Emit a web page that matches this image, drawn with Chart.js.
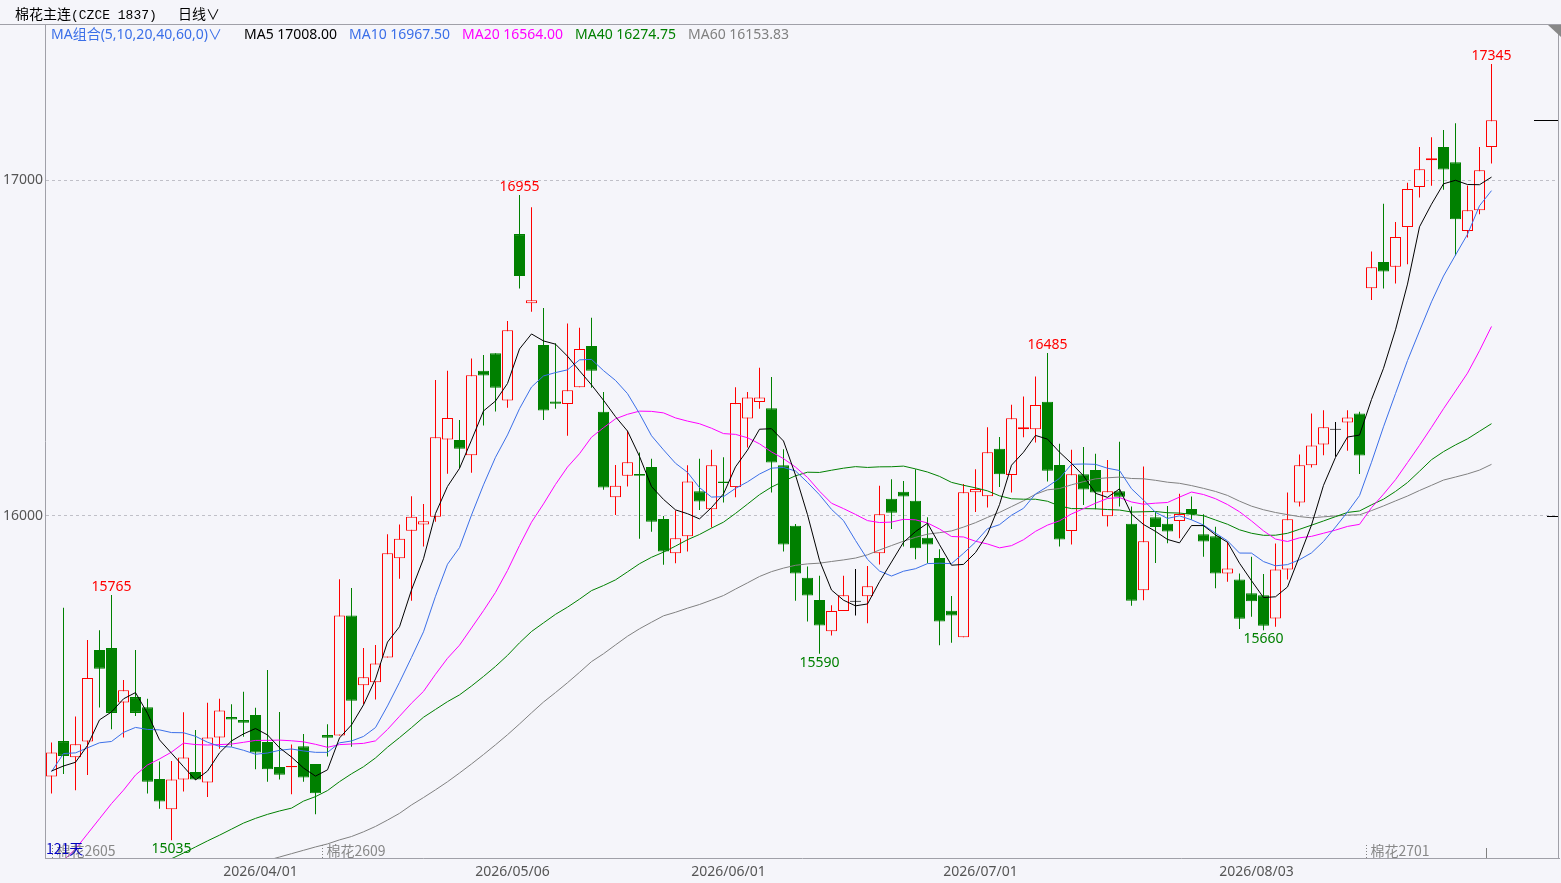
<!DOCTYPE html>
<html><head><meta charset="utf-8">
<script src="https://cdn.jsdelivr.net/npm/chart.js@4.4.1/dist/chart.umd.min.js"></script>
<style>
html,body{margin:0;padding:0;background:#f5f5fa;}
#wrap{position:relative;width:1561px;height:883px;overflow:hidden;background:#f5f5fa;}
canvas{position:absolute;left:0;top:0;}
.t{position:absolute;white-space:nowrap;font-family:"Noto Sans CJK SC","Noto Sans",sans-serif;font-size:14px;line-height:18px;}
.m{position:absolute;white-space:nowrap;font-family:"Noto Sans","Noto Sans CJK SC",sans-serif;font-size:14px;line-height:18px;}
.ln{position:absolute;background:#a0a0a8;}
</style></head>
<body><div id="wrap">
<canvas id="c" width="1561" height="883"></canvas>
<div class="ln" style="left:0;top:24px;width:1561px;height:1px;"></div>
<div class="ln" style="left:1558px;top:24px;width:1px;height:835px;"></div>
<div style="position:absolute;left:1548px;top:25px;width:0;height:0;border-top:12px solid #888;border-left:13px solid transparent;"></div>
<div class="t" style="left:15px;top:4px;color:#000">棉花主连<span style="font-family:'Liberation Mono',monospace;font-size:13px">(CZCE 1837)</span></div>
<div class="t" style="left:178px;top:4px;color:#000">日线∨</div>
<div class="m" style="left:51px;top:25px;color:#3b6fe8">MA组合(5,10,20,40,60,0)∨</div>
<div class="m" style="left:244px;top:25px;color:#000">MA5 17008.00</div>
<div class="m" style="left:349px;top:25px;color:#3b6fe8">MA10 16967.50</div>
<div class="m" style="left:462px;top:25px;color:#ff00ff">MA20 16564.00</div>
<div class="m" style="left:575px;top:25px;color:#008000">MA40 16274.75</div>
<div class="m" style="left:688px;top:25px;color:#808080">MA60 16153.83</div>
</div>
<script>
const dates = [
'2026/03/09','2026/03/10','2026/03/11','2026/03/12','2026/03/13','2026/03/16','2026/03/17','2026/03/18','2026/03/19','2026/03/20',
'2026/03/23','2026/03/24','2026/03/25','2026/03/26','2026/03/27','2026/03/30','2026/03/31',
'2026/04/01','2026/04/02','2026/04/03','2026/04/07','2026/04/08','2026/04/09','2026/04/10','2026/04/13','2026/04/14','2026/04/15',
'2026/04/16','2026/04/17','2026/04/20','2026/04/21','2026/04/22','2026/04/23','2026/04/24','2026/04/27','2026/04/28','2026/04/29','2026/04/30',
'2026/05/06','2026/05/07','2026/05/08','2026/05/11','2026/05/12','2026/05/13','2026/05/14','2026/05/15','2026/05/18','2026/05/19',
'2026/05/20','2026/05/21','2026/05/22','2026/05/25','2026/05/26','2026/05/27','2026/05/28','2026/05/29',
'2026/06/01','2026/06/02','2026/06/03','2026/06/04','2026/06/05','2026/06/08','2026/06/09','2026/06/10','2026/06/11','2026/06/12',
'2026/06/15','2026/06/16','2026/06/17','2026/06/18','2026/06/22','2026/06/23','2026/06/24','2026/06/25','2026/06/26','2026/06/29','2026/06/30',
'2026/07/01','2026/07/02','2026/07/03','2026/07/06','2026/07/07','2026/07/08','2026/07/09','2026/07/10','2026/07/13','2026/07/14',
'2026/07/15','2026/07/16','2026/07/17','2026/07/20','2026/07/21','2026/07/22','2026/07/23','2026/07/24','2026/07/27','2026/07/28',
'2026/07/29','2026/07/30','2026/07/31',
'2026/08/03','2026/08/04','2026/08/05','2026/08/06','2026/08/07','2026/08/10','2026/08/11','2026/08/12','2026/08/13','2026/08/14',
'2026/08/17','2026/08/18','2026/08/19','2026/08/20','2026/08/21','2026/08/24','2026/08/25','2026/08/26','2026/08/27','2026/08/28','2026/08/31'];

const opens = [15225,15330,15282,15329,15601,15607,15445,15461,15431,15217,
15127,15216,15238,15207,15341,15402,15393,15408,15327,15253,
15252,15315,15262,15348,15347,15704,15496,15505,15579,15874,
15956,15975,15998,16228,16226,16181,16432,16484,16344,16839,
16633,16509,16341,16333,16383,16506,16310,16056,16120,16125,
16146,15991,15889,15940,16074,16020,16103,16086,16290,16339,
16321,16151,15971,15816,15750,15657,15717,15745,15761,15889,
16051,16072,16045,15935,15875,15718,15639,16071,16059,16200,
16122,16258,16258,16340,16152,15955,16124,16137,15999,16074,
15977,15779,15996,15977,15985,16021,15946,15940,15829,15811,
15770,15764,15695,15841,16040,16151,16213,16257,16278,16305,
16678,16756,16742,16860,16979,17059,17098,17053,16848,16910,
17098];
const highs = [15326,15727,15403,15631,15660,15765,15512,15601,15456,15269,
15271,15416,15363,15444,15456,15440,15477,15429,15542,15417,
15320,15351,15262,15380,15812,15786,15607,15616,15946,15975,
16059,16036,16405,16432,16286,16469,16479,16484,16580,16955,
16919,16619,16514,16573,16560,16590,16369,16152,16254,16189,
16170,16000,16016,16151,16170,16197,16175,16383,16369,16441,
16414,16199,15976,15850,15822,15734,15822,15842,15851,16090,
16109,16104,16139,15996,15901,15762,16095,16139,16264,16235,
16331,16356,16415,16485,16215,16197,16205,16185,16167,16221,
16028,16147,16013,16030,16066,16058,16005,15968,15923,15829,
15879,15827,15918,16070,16183,16305,16315,16280,16315,16310,
16787,16929,16875,16992,17098,17127,17149,17169,16984,17098,
17345];
const lows = [15174,15232,15184,15229,15430,15365,15341,15405,15174,15129,
15035,15180,15214,15164,15307,15313,15343,15246,15209,15216,
15172,15209,15112,15284,15347,15313,15440,15454,15579,15813,
15748,15909,15983,16126,16141,16129,16269,16311,16322,16677,
16608,16286,16319,16239,16383,16382,16078,16003,16088,15932,
15953,15855,15859,15894,16018,15966,16040,16056,16204,16319,
16070,15894,15748,15686,15590,15644,15717,15704,15681,15856,
15961,15909,15871,15859,15615,15623,15639,16012,16025,16086,
16070,16234,16219,16103,15909,15915,16033,16020,15969,16028,
15733,15749,15860,15919,15934,15989,15879,15785,15804,15664,
15700,15660,15670,15811,16028,16144,16181,16176,16194,16125,
16643,16677,16692,16749,16948,16983,16971,16775,16829,16898,
17049];
const closes = [15296,15286,15321,15518,15545,15414,15481,15414,15209,15150,
15216,15281,15216,15341,15421,15394,15385,15296,15246,15230,
15256,15222,15175,15340,15704,15450,15520,15561,15889,15932,
15998,15984,16234,16292,16200,16419,16418,16382,16553,16714,
16642,16314,16334,16374,16497,16432,16085,16090,16160,16120,
15983,15894,15934,16103,16043,16151,16098,16336,16353,16353,
16159,15915,15829,15763,15674,15717,15764,15745,15791,16005,
16010,16058,15904,15915,15686,15704,16071,16080,16190,16124,
16291,16264,16330,16135,15930,16124,16079,16070,16074,16057,
15748,15925,15967,15954,16006,16006,15924,15829,15844,15694,
15746,15673,15841,15990,16151,16210,16264,16257,16293,16180,
16740,16728,16830,16973,17032,17065,17031,16883,16910,17029,
17178];

const ma5 = [15241,15256,15267,15317,15393.2,15416.8,15455.8,15474.4,15412.6,15333.6,
15294,15254,15214.4,15240.8,15295,15330.6,15351.4,15367.4,15348.4,15310.2,
15282.6,15250,15225.8,15244.6,15339.4,15378.2,15437.8,15515,15624.8,15670.4,
15780,15872.8,16007.4,16088,16141.6,16225.8,16312.6,16342.2,16394.4,16497.2,
16541.8,16521,16511.4,16475.6,16432.2,16390.2,16344.4,16295.6,16252.8,16177.4,
16087.6,16049.4,16018.2,16006.8,15991.4,16025,16065.8,16146.2,16196.2,16258.2,
16259.8,16223.2,16121.8,16003.8,15868,15779.6,15749.4,15732.6,15738.2,15804.4,
15863,15921.8,15953.6,15978.4,15914.6,15853.4,15856,15891.2,15946.2,16033.8,
16151.2,16189.8,16239.8,16228.8,16190,16156.6,16119.6,16067.6,16055.4,16080.8,
16005.6,15974.8,15954.2,15930.2,15920,15971.6,15971.4,15943.8,15921.8,15859.4,
15807.4,15757.2,15759.6,15788.8,15880.2,15973,16091.2,16174.4,16235,16240.8,
16346.8,16439.6,16554.2,16690.2,16860.6,16928,16988.6,16999.2,16986.6,16986,
17008.6];
const ma10 = [15239,15293,15295,15310,15325,15328.9,15355.9,15370.7,15364.8,15363.4,
15355.4,15354.9,15344.4,15326.7,15314.3,15312.3,15302.7,15290.9,15294.6,15302.6,
15306.6,15300.7,15296.6,15296.5,15324.8,15330.4,15343.9,15370.4,15434.7,15504.9,
15579.1,15655.3,15761.2,15856.4,15906,16002.9,16092.7,16174.8,16241.2,16319.4,
16383.8,16416.8,16426.8,16435,16464.7,16466,16432.7,16403.5,16364.2,16304.8,
16238.9,16196.9,16156.9,16129.8,16084.4,16056.3,16057.6,16082.2,16101.5,16124.8,
16142.4,16144.5,16134,16100,16063.1,16019.7,15986.3,15927.2,15871,15836.2,
15821.3,15835.6,15843.1,15858.3,15859.5,15858.2,15888.9,15922.4,15962.3,15974.2,
16002.3,16022.9,16065.5,16087.5,16111.9,16153.9,16154.7,16153.7,16142.1,16135.4,
16081.1,16047.2,16010.9,15992.8,16000.4,15988.6,15973.1,15949,15926,15889.7,
15889.5,15864.3,15851.7,15855.3,15869.8,15890.2,15924.2,15967,16011.9,16060.5,
16159.9,16265.4,16364.3,16462.6,16550.7,16637.4,16714.1,16776.7,16838.4,16923.3,
16968.3];
const ma20 = [14930,14975,15009,15054,15099,15144,15184,15229,15259,15277,
15297.2,15324,15319.7,15318.4,15319.7,15321.2,15326.4,15332,15332.3,15333,
15331,15327.8,15320.5,15311.6,15319.6,15321.4,15323.3,15330.7,15364.7,15403.8,
15442.9,15478,15528.9,15576.5,15615.4,15666.7,15718.3,15772.6,15838,15912.2,
15981.5,16036,16094,16145.7,16185.4,16234.5,16262.7,16289.2,16302.7,16312.1,
16311.4,16306.9,16291.9,16282.4,16274.6,16261.2,16245.2,16242.9,16232.9,16214.8,
16190.7,16170.7,16145.5,16114.9,16073.8,16038,16022,16004.7,15986.3,15980.5,
15981.9,15990.1,15988.6,15979.2,15961.3,15939,15937.6,15924.8,15916.7,15905.2,
15911.8,15929.3,15954.3,15972.9,15985.7,16006.1,16021.8,16038.1,16052.2,16054.8,
16041.7,16035,16038.2,16040.2,16056.2,16071.3,16063.9,16051.4,16034.1,16012.6,
15985.3,15955.8,15931.3,15924.1,15935.1,15939.4,15948.7,15958,15969,15975.1,
16024.7,16064.9,16108,16159,16210.3,16263.8,16319.2,16371.9,16425.2,16491.9,
16564.1];
const ma40 = [null,null,null,null,null,null,null,null,null,14961,
14980,14997,15015,15033,15050,15068,15086,15100,15112,15122,
15130.5,15151.4,15164.8,15182.8,15209.3,15232.7,15253.7,15279.9,15311.9,15340.4,
15370.1,15401,15424.3,15447.5,15467.6,15494,15522.4,15552.3,15585.2,15622.6,
15656.2,15681.9,15707.3,15728.7,15752.5,15777.9,15793,15809.9,15833.7,15857.9,
15877.1,15892.4,15910.4,15929.4,15945,15963.9,15981.7,16007.7,16035.4,16063.5,
16086,16103.4,16119.7,16130.3,16129.6,16136.2,16142.3,16146.9,16144.5,16146.3,
16146.6,16148.5,16140.2,16130.8,16117.9,16100.1,16091.4,16083.8,16074.8,16060,
16051.2,16050,16049.9,16043.9,16029.7,16022,16021.9,16021.4,16019.2,16017.7,
16011.8,16012.6,16013.4,16009.7,16008.7,16005.1,16000.8,15988.1,15975.4,15958.9,
15948.6,15942.5,15942.8,15948.5,15960.4,15972.7,15985.2,15998,16010.6,16015,
16033.2,16050,16073.1,16099.6,16133.2,16167.5,16191.5,16211.6,16229.6,16252.2,
16274.7];
const ma60 = [null,null,null,null,null,null,null,null,null,null,
null,null,null,null,null,null,null,null,14975,14985,
14995,15005,15015,15024,15036,15046,15060,15076,15095,15115,
15140,15162,15185,15209,15235,15262,15290,15319,15349,15381,
15414.1,15446.3,15474.5,15503.8,15534.7,15566.6,15590,15616.3,15642.1,15664.3,
15683.8,15702.9,15713.5,15725.7,15736.6,15749.7,15763.3,15782.5,15801,15820,
15834.4,15844.9,15853.3,15857.4,15859.6,15864.6,15869.3,15874.8,15884.5,15898.8,
15912,15925,15936.4,15946,15950.4,15955.6,15967,15980.1,15995.8,16010.7,
16028,16045.3,16064.6,16077.8,16081.6,16092.8,16102.2,16110.6,16113.7,16115.8,
16111.6,16110.7,16106.2,16100.6,16097.3,16090.5,16082.2,16073,16061.2,16044.2,
16029.3,16018.6,16010.4,16004,15998.2,15994.5,15997.5,16000.3,16002.5,16003.5,
16016.1,16030,16044.9,16059.4,16075.9,16091.3,16106.9,16116,16125.3,16136.6,
16153.7];

const yTickValues = [16000, 17000];
const dateTickLabels = ['2026/04/01','2026/05/06','2026/06/01','2026/07/01','2026/08/03'];
const highMarks = [5, 39, 83, 120];
const lowMarks = [10, 64, 101];
const contractNames = ['棉花2605','棉花2609','棉花2701'];
const contractStarts = [0, 22.5, 109.5];
const dayCountText = '121天';

const UP = '#ff0000', DOWN = '#008000', FLAT = '#000000', BG = '#f5f5fa';
const col = i => closes[i] > opens[i] ? UP : (closes[i] < opens[i] ? DOWN : FLAT);
const idx = closes.map((_, i) => i);
const candleColors = idx.map(col);
const bodyFill = idx.map(i => closes[i] > opens[i] ? BG : candleColors[i]);

const lineDs = (arr, color) => ({
  type: 'line', data: arr.map((v, i) => ({x: i, y: v})), borderColor: color,
  borderWidth: 1, pointRadius: 0, tension: 0, fill: false, order: 0
});

const marks = {
  id: 'marks',
  afterDatasetsDraw(chart) {
    const {ctx, scales: {x, y}, chartArea} = chart;
    ctx.save();
    ctx.font = '14px "Noto Sans", sans-serif';
    ctx.textAlign = 'center';
    ctx.fillStyle = '#ff0000';
    ctx.textBaseline = 'bottom';
    highMarks.forEach(i => ctx.fillText(String(highs[i]), x.getPixelForValue(i), y.getPixelForValue(highs[i]) - 1));
    ctx.fillStyle = '#008000';
    ctx.textBaseline = 'top';
    lowMarks.forEach(i => ctx.fillText(String(lows[i]), x.getPixelForValue(i), y.getPixelForValue(lows[i]) + 2));
    ctx.textAlign = 'left';
    ctx.textBaseline = 'middle';
    ctx.font = '14px "Noto Sans CJK SC", sans-serif';
    contractStarts.forEach((p, k) => {
      const px = Math.round(x.getPixelForValue(p)) + 0.5;
      ctx.strokeStyle = '#808080';
      ctx.lineWidth = 1;
      ctx.setLineDash([1, 2]);
      ctx.beginPath(); ctx.moveTo(px, chartArea.bottom - 13); ctx.lineTo(px, chartArea.bottom); ctx.stroke();
      ctx.setLineDash([]);
      ctx.fillStyle = '#888888';
      ctx.fillText(contractNames[k], px + 4, chartArea.bottom - 7);
    });
    const lx = Math.round(x.getPixelForValue(closes.length - 1.5)) + 0.5;
    ctx.strokeStyle = '#808080';
    ctx.beginPath(); ctx.moveTo(lx, chartArea.bottom - 10); ctx.lineTo(lx, chartArea.bottom); ctx.stroke();
    ctx.fillStyle = '#0000c0';
    ctx.fillText(dayCountText, chartArea.left + 1, chartArea.bottom - 9);
    ctx.strokeStyle = '#000';
    const yl = Math.round(y.getPixelForValue(closes[closes.length - 1])) + 0.5;
    ctx.beginPath(); ctx.moveTo(chartArea.right - 25, yl); ctx.lineTo(chartArea.right, yl); ctx.stroke();
    const y16 = Math.round(y.getPixelForValue(yTickValues[0])) + 0.5;
    ctx.beginPath(); ctx.moveTo(chartArea.right - 12, y16); ctx.lineTo(chartArea.right, y16); ctx.stroke();
    ctx.restore();
  }
};

Chart.defaults.font.family = '"Noto Sans", sans-serif';
new Chart(document.getElementById('c'), {
  type: 'bar',
  data: {
    datasets: [
      lineDs(ma5, '#000000'),
      lineDs(ma10, '#3b6fe8'),
      lineDs(ma20, '#ff00ff'),
      lineDs(ma40, '#008000'),
      lineDs(ma60, '#808080'),
      { type: 'bar', data: idx.map(i => ({x: i, y: [opens[i], closes[i]]})),
        backgroundColor: bodyFill, borderColor: candleColors, borderWidth: 1, borderSkipped: false,
        barThickness: 11, minBarLength: 1, grouped: false, inflateAmount: 0, order: 1 },
      { type: 'bar', data: idx.map(i => ({x: i, y: [lows[i], highs[i]]})),
        backgroundColor: candleColors, borderWidth: 0, barThickness: 1, grouped: false, inflateAmount: 0, order: 2 }
    ]
  },
  options: {
    responsive: false, animation: false, devicePixelRatio: 1,
    layout: {padding: {top: 24, right: 2, left: 3, bottom: 0}},
    plugins: {legend: {display: false}, tooltip: {enabled: false}},
    scales: {
      x: {
        type: 'linear', offset: false, min: -6.5 / 12, max: -6.5 / 12 + 1514 / 12,
        grid: {display: false, drawTicks: false, offset: false},
        border: {display: true, color: '#a0a0a8'},
        afterBuildTicks: s => { s.ticks = dateTickLabels.map(d => ({value: dates.indexOf(d)})); },
        afterFit: s => { s.height = 25; },
        ticks: {callback: v => dates[v] || '', labelOffset: 5, autoSkip: false, maxRotation: 0, padding: 6,
                color: '#555', font: {size: 14}}
      },
      y: {
        type: 'linear', position: 'left', min: 14982.1, max: 17464.3,
        afterBuildTicks: s => { s.ticks = yTickValues.map(v => ({value: v})); },
        afterFit: s => { s.width = 42; },
        grid: {color: '#c0c0c8', drawTicks: false},
        border: {display: true, color: '#a0a0a8', dash: [3, 3]},
        ticks: {callback: v => String(v), crossAlign: 'far', padding: 0, color: '#555', font: {size: 14}}
      }
    }
  },
  plugins: [marks]
});
</script>
</body></html>
